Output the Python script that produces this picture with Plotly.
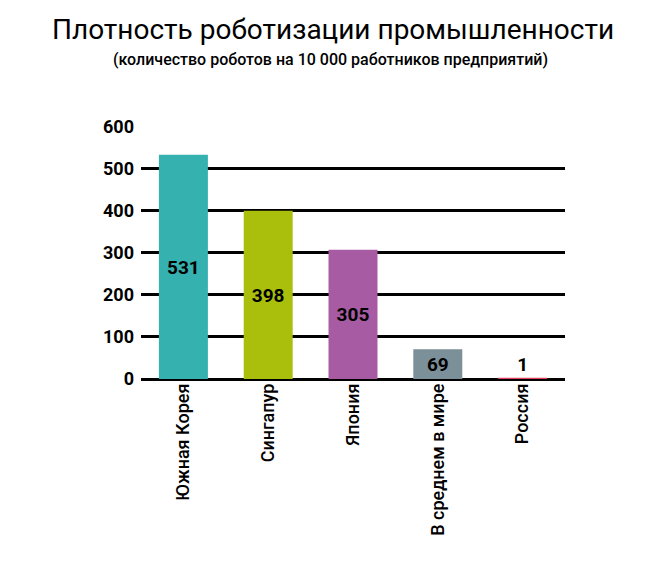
import plotly.graph_objects as go

countries = ["Южная Корея", "Сингапур", "Япония", "В среднем в мире", "Россия"]
robots = [531, 398, 305, 69, 1]
colors = ["#35b2b0", "#a9bf0c", "#a75ba3", "#7b9098", "#e2405c"]
text_pos = ["inside", "inside", "inside", "inside", "outside"]

fig = go.Figure(go.Bar(
    x=countries, y=robots, marker_color=colors, width=0.56,
    marker_line=dict(color=colors, width=1.5),
    text=robots, textposition=text_pos, insidetextanchor="middle",
    textfont=dict(family="Roboto", size=19, color="black", weight="bold"),
    cliponaxis=False,
))

ph = 577 - 118 - 206
fig.update_layout(
    width=650, height=577, plot_bgcolor="white", paper_bgcolor="white",
    margin=dict(l=133, r=93, t=118, b=206),
    font=dict(family="Roboto", color="black"),
    showlegend=False,
    annotations=[
        dict(text="Плотность роботизации промышленности", x=(325 - 133) / 424,
             y=1 + (118 - 22) / ph, xref="paper", yref="paper", yanchor="middle",
             showarrow=False, font=dict(size=28, family="Roboto")),
        dict(text="(количество роботов на 10 000 работников предприятий)",
             x=(322 - 133) / 424, y=1 + (118 - 51) / ph, xref="paper", yref="paper",
             yanchor="middle", showarrow=False,
             font=dict(size=16, family="Roboto", weight=500)),
    ],
)

fig.update_yaxes(range=[0, 601], tickvals=[0, 100, 200, 300, 400, 500, 600],
                 gridcolor="black", gridwidth=2.5,
                 zeroline=True, zerolinecolor="black", zerolinewidth=2.5,
                 tickfont=dict(size=18, weight="bold"), ticklabelstandoff=6)
fig.update_xaxes(tickangle=-90, tickfont=dict(size=18, weight=500), showline=False)

fig.write_html("out.html")
